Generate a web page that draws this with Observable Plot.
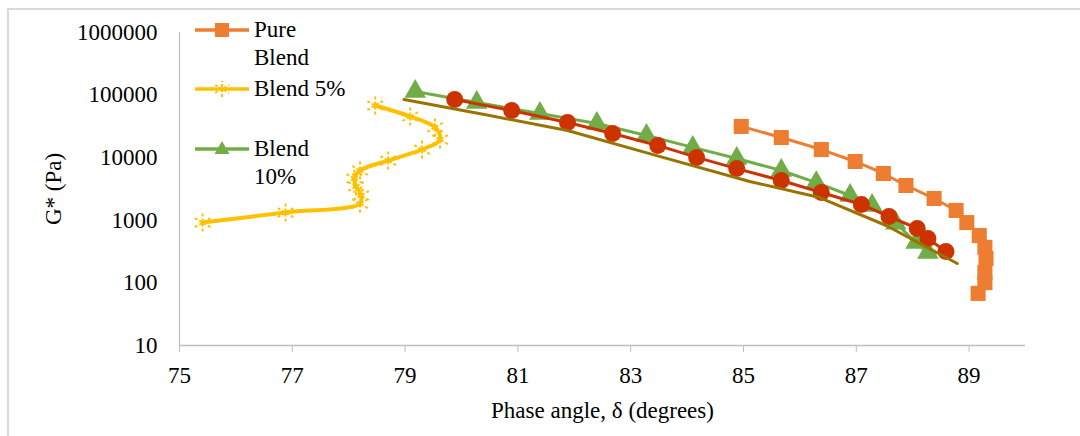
<!DOCTYPE html>
<html>
<head>
<meta charset="utf-8">
<script src="https://cdn.jsdelivr.net/npm/d3@7"></script>
<script src="https://cdn.jsdelivr.net/npm/@observablehq/plot@0.6"></script>
<style>
  html, body { margin: 0; padding: 0; background: #fff; }
  #wrap { position: relative; width: 1080px; height: 436px; overflow: hidden; font-family: "Liberation Serif", "Times New Roman", serif; }
  #border { position: absolute; left: 7px; top: 8px; width: 1200px; height: 600px; border-top: 2px solid #d9d9d9; border-left: 2px solid #d9d9d9; }
  #legend { position: absolute; left: 0; top: 0; }
  .item { position: absolute; display: flex; align-items: flex-start; white-space: nowrap; }
  .item svg { display: block; }
  .item span { font-size: 23px; line-height: 28px; color: #000; margin-left: 5px; }
  #chart svg text { font-family: "Liberation Serif", "Times New Roman", serif; }
</style>
</head>
<body>
<div id="wrap">
  <div id="border"></div>
  <div id="chart"></div>
  <div id="legend"></div>
</div>
<script>
// ---- Data ----
const xTicks = [75, 77, 79, 81, 83, 85, 87, 89];
const yTicks = [10, 100, 1000, 10000, 100000, 1000000];
const xDomain = [75, 90];
const yDomain = [10, 1000000];

const pureBlendX = [84.96, 85.67, 86.38, 86.98, 87.48, 87.88, 88.38, 88.77, 88.96, 89.18, 89.28, 89.30, 89.28, 89.28, 89.16];
const pureBlendY = [31600, 21000, 13500, 8700, 5600, 3600, 2230, 1435, 920, 570, 370, 245, 147, 101, 68];

const blend5X = [78.47, 79.09, 79.53, 79.62, 79.30, 78.70, 78.20, 78.10, 78.13, 78.22, 78.20, 76.88, 75.41];
const blend5Y = [68200, 45500, 30400, 19500, 13500, 9000, 6250, 4650, 3470, 2490, 1850, 1330, 920];

const blend10X = [79.18, 80.27, 81.39, 82.40, 83.28, 84.10, 84.88, 85.67, 86.29, 86.89, 87.28, 87.70, 88.06, 88.27];
const blend10Y = [114000, 76000, 50800, 35200, 22600, 14600, 9700, 6250, 4000, 2490, 1720, 900, 442, 306];

const redX = [79.88, 80.89, 81.88, 82.68, 83.48, 84.17, 84.88, 85.67, 86.38, 87.09, 87.58, 88.08, 88.27, 88.59];
const redY = [85000, 56700, 36500, 24400, 15700, 10100, 6700, 4320, 2780, 1790, 1150, 740, 510, 318];

const oliveX = [78.98, 80.50, 81.88, 83.46, 85.11, 86.35, 87.53, 88.79];
const oliveY = [85000, 47200, 27200, 10800, 4170, 2310, 826, 204];

const legendLabels = [["Pure", "Blend"], ["Blend 5%"], ["Blend", "10%"]];

// ---- Build tables ----
const zip = (xs, ys) => xs.map((x, i) => ({x, y: ys[i]}));
const pure = zip(pureBlendX, pureBlendY);
const b5 = zip(blend5X, blend5Y);
const b10 = zip(blend10X, blend10Y);
const red = zip(redX, redY);
const olive = zip(oliveX, oliveY);

const C = {orange: "#ED7D31", yellow: "#FFC000", green: "#70AD47", red: "#CC3300", olive: "#997300", axis: "#bfbfbf"};

const chart = Plot.plot({
  width: 1080,
  height: 436,
  marginLeft: 179,
  marginRight: 55,
  marginTop: 32,
  marginBottom: 91,
  style: {fontFamily: "'Liberation Serif', 'Times New Roman', serif", fontSize: "23px", background: "transparent", color: "#000", overflow: "visible"},
  x: {domain: xDomain},
  y: {type: "log", domain: yDomain},
  marks: [
    Plot.ruleX([xDomain[0]], {stroke: C.axis, strokeWidth: 1.3}),
    Plot.ruleY([yDomain[0]], {stroke: C.axis, strokeWidth: 1.3}),
    Plot.axisX({ticks: xTicks, tickSize: 7, tickPadding: 14, stroke: C.axis, fill: "#000",
      label: "Phase angle, δ (degrees)", labelAnchor: "center", labelOffset: 72, labelArrow: "none"}),
    Plot.axisY({ticks: yTicks, tickSize: 0, tickPadding: 22, fill: "#000", tickFormat: d => String(d),
      label: "G* (Pa)", labelAnchor: "center", labelOffset: 135, labelArrow: "none"}),
    // Pure Blend
    Plot.line(pure, {x: "x", y: "y", stroke: C.orange, strokeWidth: 3}),
    Plot.dot(pure, {x: "x", y: "y", symbol: "square", r: 8.5, fill: C.orange}),
    // Blend 5%
    Plot.line(b5, {x: "x", y: "y", stroke: C.yellow, strokeWidth: 4, curve: "catmull-rom"}),
    Plot.dot(b5, {x: "x", y: "y", symbol: "asterisk", r: 8.5, stroke: C.yellow, strokeWidth: 2, strokeDasharray: "3,2"}),
    // Blend 10%
    Plot.line(b10, {x: "x", y: "y", stroke: C.green, strokeWidth: 3}),
    Plot.dot(b10, {x: "x", y: "y", symbol: "triangle", r: 8, fill: C.green}),
    // red series
    Plot.line(red, {x: "x", y: "y", stroke: C.red, strokeWidth: 3}),
    Plot.dot(red, {x: "x", y: "y", symbol: "circle", r: 8.5, fill: C.red}),
    // olive series (line only)
    Plot.line(olive, {x: "x", y: "y", stroke: C.olive, strokeWidth: 3})
  ]
});
document.getElementById("chart").appendChild(chart);

// ---- Legend (HTML overlay, top-left inside plot) ----
const legendItems = [
  {label: legendLabels[0], color: C.orange, symbol: "square", top: 16},
  {label: legendLabels[1], color: C.yellow, symbol: "asterisk", top: 75},
  {label: legendLabels[2], color: C.green, symbol: "triangle", top: 135}
];
const legend = document.getElementById("legend");
for (const it of legendItems) {
  const div = document.createElement("div");
  div.className = "item";
  div.style.left = "195px";
  div.style.top = it.top + "px";
  let marker = "";
  if (it.symbol === "square") marker = `<rect x="20" y="7" width="14" height="14" fill="${it.color}"/>`;
  if (it.symbol === "triangle") marker = `<path d="M27,6 L34.5,19 L19.5,19 Z" fill="${it.color}"/>`;
  if (it.symbol === "asterisk") {
    const p = d3.symbol(d3.symbolAsterisk, 180)();
    marker = `<path transform="translate(27,14)" d="${p}" stroke="${it.color}" stroke-width="2" stroke-dasharray="3,2" fill="none"/>`;
  }
  div.innerHTML = `<svg width="54" height="28"><line x1="0" x2="54" y1="14" y2="14" stroke="${it.color}" stroke-width="3.5"/>${marker}</svg>` +
    `<span>${it.label.join("<br>")}</span>`;
  legend.appendChild(div);
}
</script>
</body>
</html>
